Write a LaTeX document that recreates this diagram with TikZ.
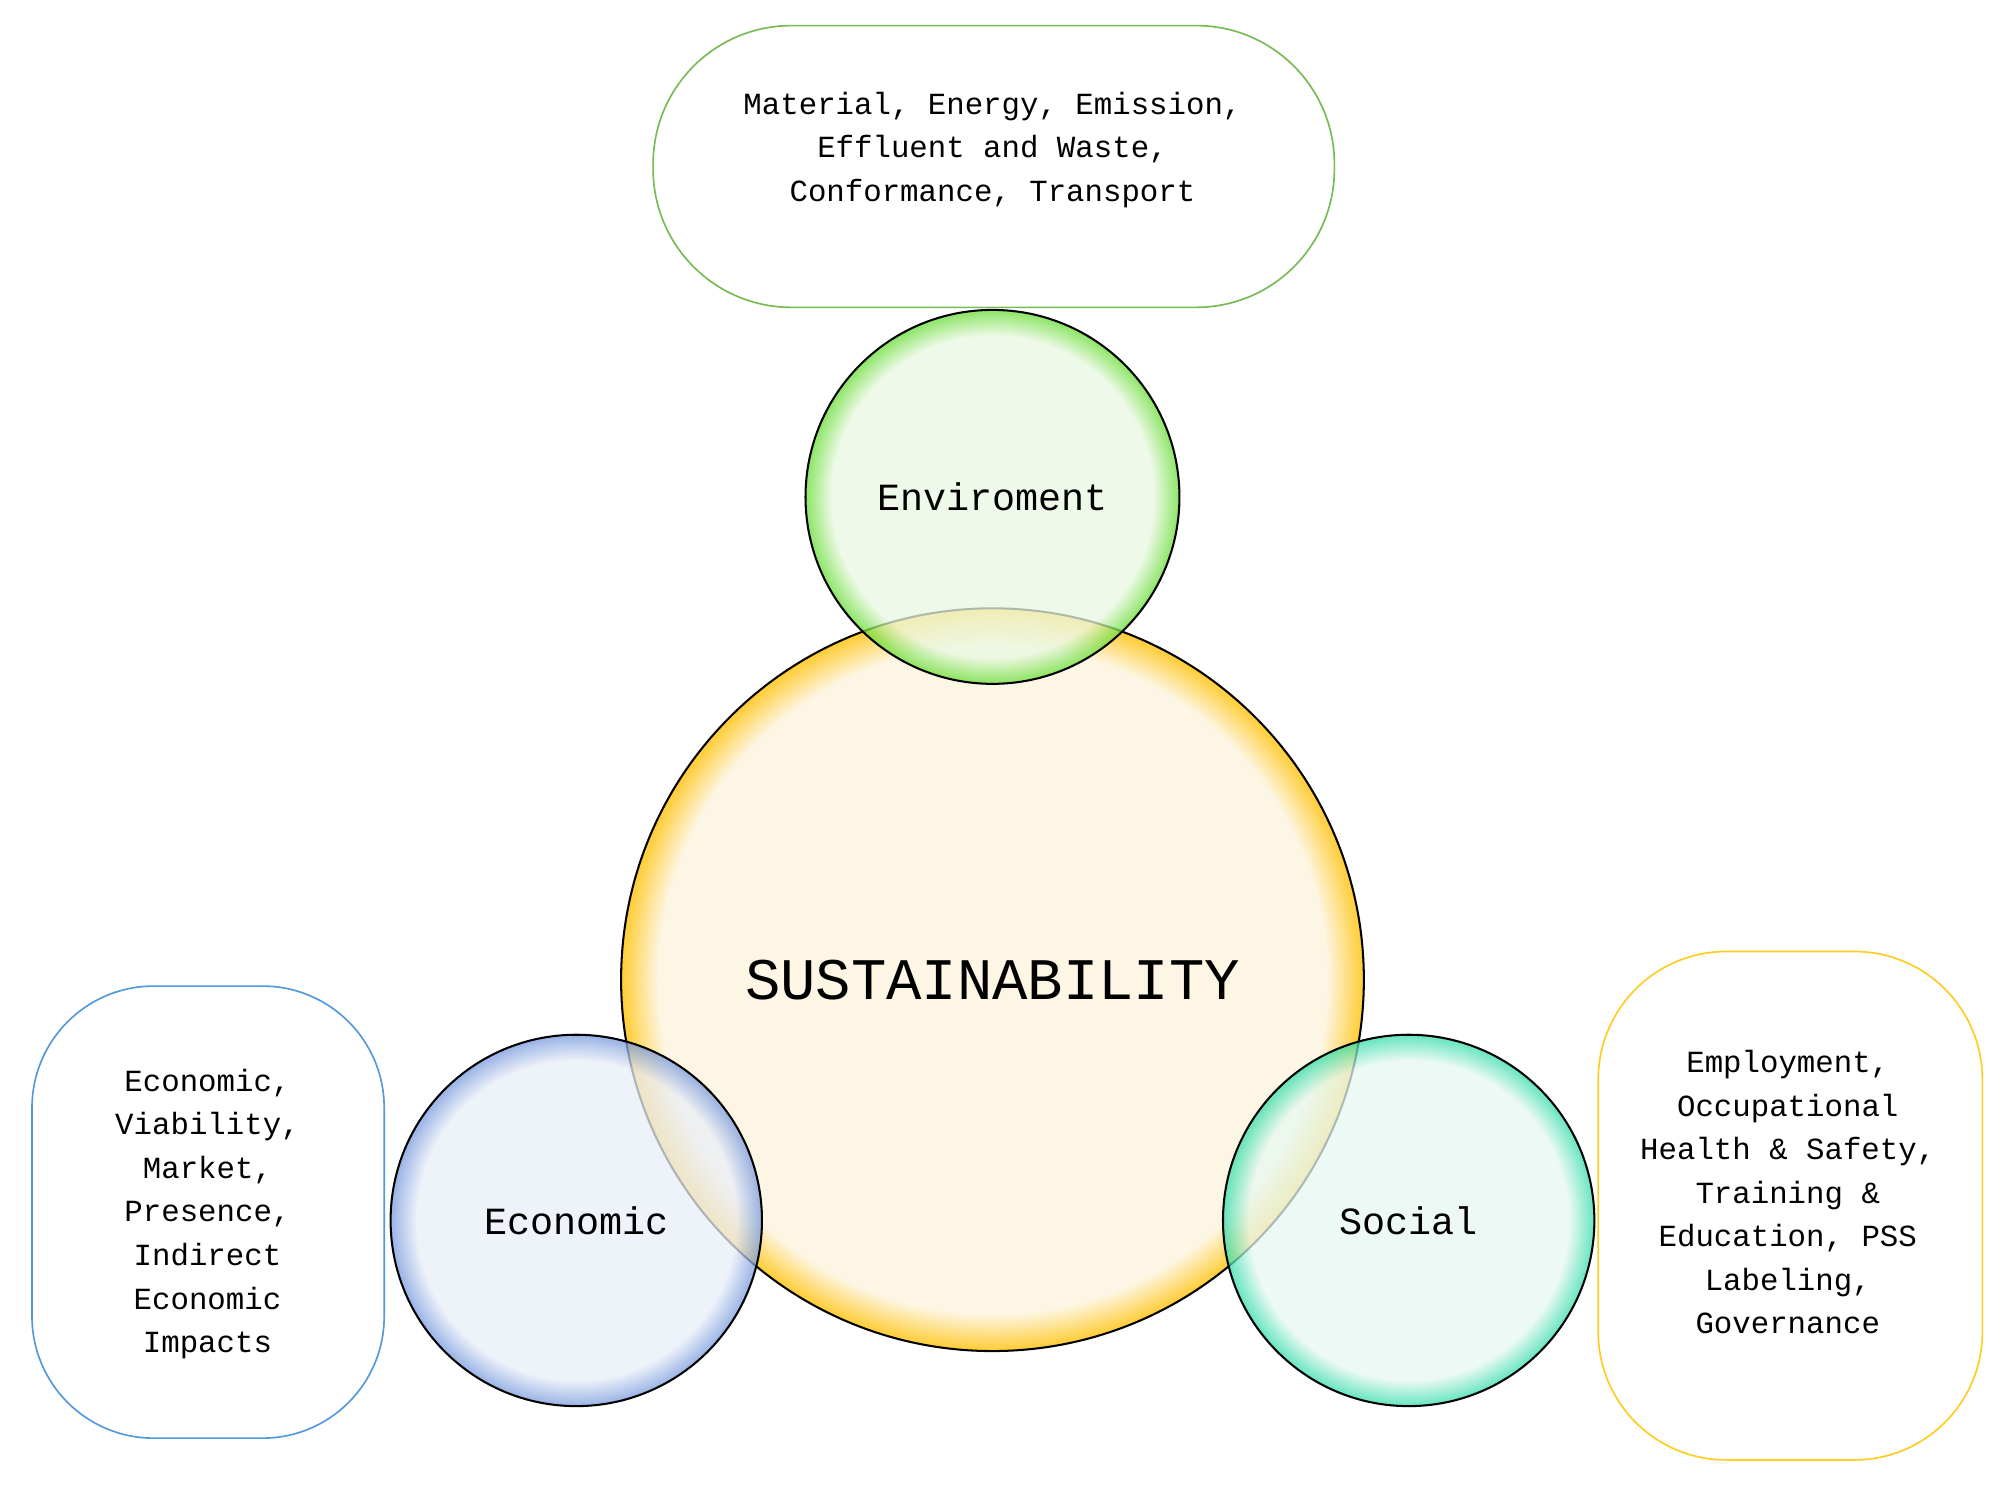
\documentclass[tikz,border=0pt]{standalone}
\usepackage{fontspec}
\setmonofont{Liberation Mono}
\definecolor{envL}{HTML}{EAF8E2}\definecolor{envS}{HTML}{66DD33}
\definecolor{susL}{HTML}{FDF6E4}\definecolor{susS}{HTML}{FFCC33}
\definecolor{ecoL}{HTML}{E9EEF8}\definecolor{ecoS}{HTML}{7799DD}
\definecolor{socL}{HTML}{E7F8F1}\definecolor{socS}{HTML}{33DDAA}
\definecolor{boxG}{HTML}{77BB55}\definecolor{boxB}{HTML}{5599DD}\definecolor{boxY}{HTML}{FFCC22}
\pgfdeclareradialshading{envsh}{\pgfpoint{0bp}{0bp}}{color(0bp)=(envL);color(21.5bp)=(envL);color(25bp)=(envS);color(50bp)=(envS)}
\pgfdeclareradialshading{sussh}{\pgfpoint{0bp}{0bp}}{color(0bp)=(susL);color(22.5bp)=(susL);color(25bp)=(susS);color(50bp)=(susS)}
\pgfdeclareradialshading{ecosh}{\pgfpoint{0bp}{0bp}}{color(0bp)=(ecoL);color(21.5bp)=(ecoL);color(25bp)=(ecoS);color(50bp)=(ecoS)}
\pgfdeclareradialshading{socsh}{\pgfpoint{0bp}{0bp}}{color(0bp)=(socL);color(21.5bp)=(socL);color(25bp)=(socS);color(50bp)=(socS)}
\tikzset{
  txt/.style={font=\ttfamily\fontsize{24}{34}\selectfont, align=center},
  lbl/.style={font=\ttfamily\fontsize{30}{36}\selectfont},
  ibox/.style={draw, line width=1.3pt, fill=white},
  ring/.style={line width=1.6pt}
}
\begin{document}
\begin{tikzpicture}[x=1pt,y=-1pt]
\useasboundingbox (0,0) rectangle (1568,1162);
\fill[white] (0,0) rectangle (1568,1162);
% boxes
\draw[ibox, draw=boxG, rounded corners=108pt] (510,20) rectangle (1042,240);
\node[txt] (envtxt) at (775,117) {Material, Energy, Emission,\\Effluent and Waste,\\Conformance, Transport};
\draw[ibox, draw=boxB, rounded corners=95pt] (25,770) rectangle (300,1123);
\node[txt] (ecotxt) at (162,948) {Economic,\\Viability,\\Market,\\Presence,\\Indirect\\Economic\\Impacts};
\draw[ibox, draw=boxY, rounded corners=100pt] (1248,743) rectangle (1548,1140);
\node[txt] (soctxt) at (1396,931) {Employment,\\Occupational\\Health \& Safety,\\Training \&\\Education, PSS\\Labeling,\\Governance};
% circles
\shade[shading=sussh] (775,765) circle (290);
\draw[ring] (775,765) circle (290);
\shade[shading=envsh, opacity=0.75] (775,388) circle (146);
\draw[ring] (775,388) circle (146);
\shade[shading=ecosh, opacity=0.75] (450,953) circle (145);
\draw[ring] (450,953) circle (145);
\shade[shading=socsh, opacity=0.75] (1100,953) circle (145);
\draw[ring] (1100,953) circle (145);
% labels
\node[font=\ttfamily\fontsize{46}{50}\selectfont] (sustxt) at (775,765) {SUSTAINABILITY};
\node[lbl] (env) at (775,388) {Enviroment};
\node[lbl] (eco) at (450,953) {Economic};
\node[lbl] (soc) at (1100,953) {Social};
\end{tikzpicture}
\end{document}
